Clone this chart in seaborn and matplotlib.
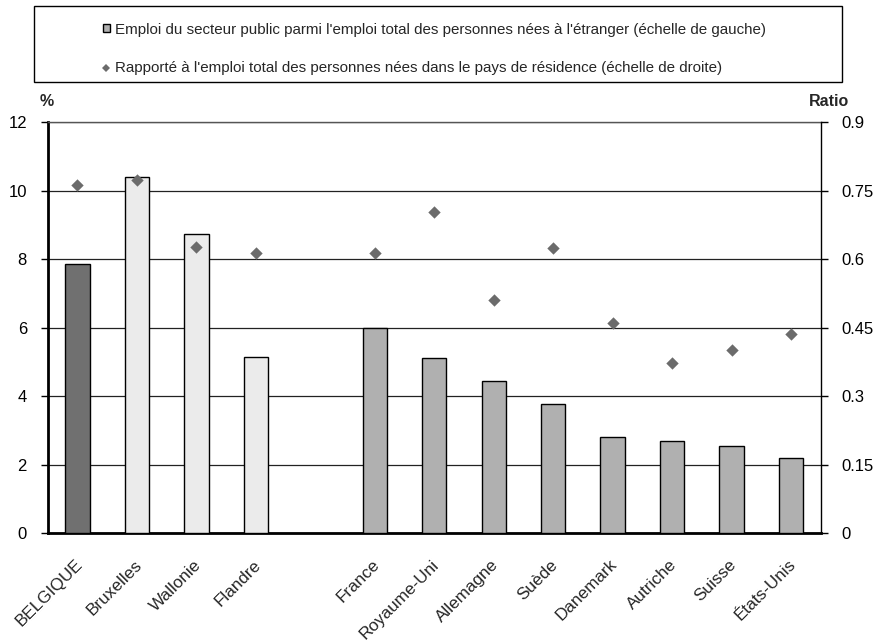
import matplotlib
matplotlib.use("Agg")
import matplotlib.pyplot as plt
import matplotlib.transforms as mtransforms
import seaborn as sns
import pandas as pd
from matplotlib.patches import Rectangle, Patch
from matplotlib.lines import Line2D

categories = ["BELGIQUE", "Bruxelles", "Wallonie", "Flandre", "France", "Royaume-Uni",
              "Allemagne", "Suède", "Danemark", "Autriche", "Suisse", "États-Unis"]
share_pct = [7.87, 10.41, 8.75, 5.16, 5.98, 5.12, 4.45, 3.79, 2.82, 2.70, 2.55, 2.20]
ratio = [0.762, 0.774, 0.627, 0.614, 0.613, 0.704, 0.511, 0.625, 0.461, 0.372, 0.401, 0.436]
groups = ["Belgique", "Région", "Région", "Région"] + ["Pays"] * 8
left_ticks = [0, 2, 4, 6, 8, 10, 12]
right_ticks = [0, 0.15, 0.3, 0.45, 0.6, 0.75, 0.9]
right_tick_labels = ["0", "0.15", "0.3", "0.45", "0.6", "0.75", "0.9"]
legend_labels = [
    "Emploi du secteur public parmi l'emploi total des personnes nées à l'étranger (échelle de gauche)",
    "Rapporté à l'emploi total des personnes nées dans le pays de résidence (échelle de droite)",
]

sns.set_theme(style="white")
plt.rcParams["font.family"] = ["Liberation Sans", "DejaVu Sans"]

df = pd.DataFrame({"cat": categories, "pct": share_pct, "ratio": ratio, "grp": groups})
order = categories[:4] + [" "] + categories[4:]
palette = {"Belgique": "#707070", "Région": "#ebebeb", "Pays": "#b0b0b0"}

fig = plt.figure(figsize=(8.76, 6.4), dpi=100)
ax = fig.add_axes([0.0545, 0.1667, 0.8825, 0.6422])

sns.barplot(data=df, x="cat", y="pct", hue="grp", order=order, palette=palette,
            dodge=False, width=0.41, edgecolor="black", linewidth=1.0,
            legend=False, ax=ax, zorder=3)

ax2 = ax.twinx()
sns.stripplot(data=df, x="cat", y="ratio", order=order, jitter=False, marker="D",
              color="#6b6b6b", size=6.3, linewidth=0, ax=ax2, zorder=4)

# left axis
ax.set_ylim(0, 12)
ax.set_yticks(left_ticks)
ax.set_yticklabels([str(t) for t in left_ticks])
ax.yaxis.grid(True, color="#222222", linewidth=0.9)
ax.xaxis.grid(False)
ax.set_axisbelow(True)
ax.set_xlim(-0.5, len(order) - 0.5)
ax.set_xlabel("")
ax.set_ylabel("")
ax.tick_params(axis="y", left=True, length=5, width=1, direction="out",
               color="black", labelsize=12, pad=10, labelcolor="black")
ax.tick_params(axis="x", bottom=False, length=0, pad=4)
ax.set_xticks(range(len(order)))
ax.set_xticklabels(order, rotation=45, ha="right", rotation_mode="anchor",
                   fontsize=12.3, va="top")
offset = mtransforms.ScaledTranslation(-3 / 100, -18 / 100, fig.dpi_scale_trans)
for lbl in ax.get_xticklabels():
    lbl.set_transform(lbl.get_transform() + offset)

for s in ["left", "bottom"]:
    ax.spines[s].set_color("black")
    ax.spines[s].set_linewidth(2)
ax.spines["top"].set_color("#555555")
ax.spines["top"].set_linewidth(1)
ax.spines["right"].set_visible(False)

# right axis
ax2.set_ylim(0, 0.9)
ax2.set_yticks(right_ticks)
ax2.set_yticklabels(right_tick_labels)
ax2.set_ylabel("")
ax2.grid(False)
for s in ["left", "bottom", "top"]:
    ax2.spines[s].set_visible(False)
ax2.spines["right"].set_color("black")
ax2.spines["right"].set_linewidth(1)
ax2.tick_params(axis="y", right=True, length=5, width=1, direction="out",
                color="black", labelsize=12, pad=10, labelcolor="black")
ax2.set_xlim(-0.5, len(order) - 0.5)

# axis titles
fig.text(47 / 876, 1 - 101 / 640, "%", ha="center", va="center",
         fontsize=11.5, fontweight="bold")
fig.text(829 / 876, 1 - 101 / 640, "Ratio", ha="center", va="center",
         fontsize=11.5, fontweight="bold")

# legend with frame box
fig.add_artist(Rectangle((34 / 876, 1 - 82 / 640), (842 - 34) / 876, (82 - 6) / 640,
                         transform=fig.transFigure, fill=False, edgecolor="black",
                         linewidth=1))
handles = [
    Patch(facecolor="#b0b0b0", edgecolor="black", linewidth=1.0),
    Line2D([], [], marker="D", linestyle="none", color="#6b6b6b",
           markersize=4, markeredgewidth=0),
]
fig.legend(handles, legend_labels, loc="center left",
           bbox_to_anchor=(95 / 876, 1 - 49 / 640), frameon=False,
           fontsize=10.9, handlelength=0.5, handleheight=0.5, handletextpad=0.3,
           labelspacing=1.65, borderpad=0)

fig.savefig("out.png", dpi=100)
